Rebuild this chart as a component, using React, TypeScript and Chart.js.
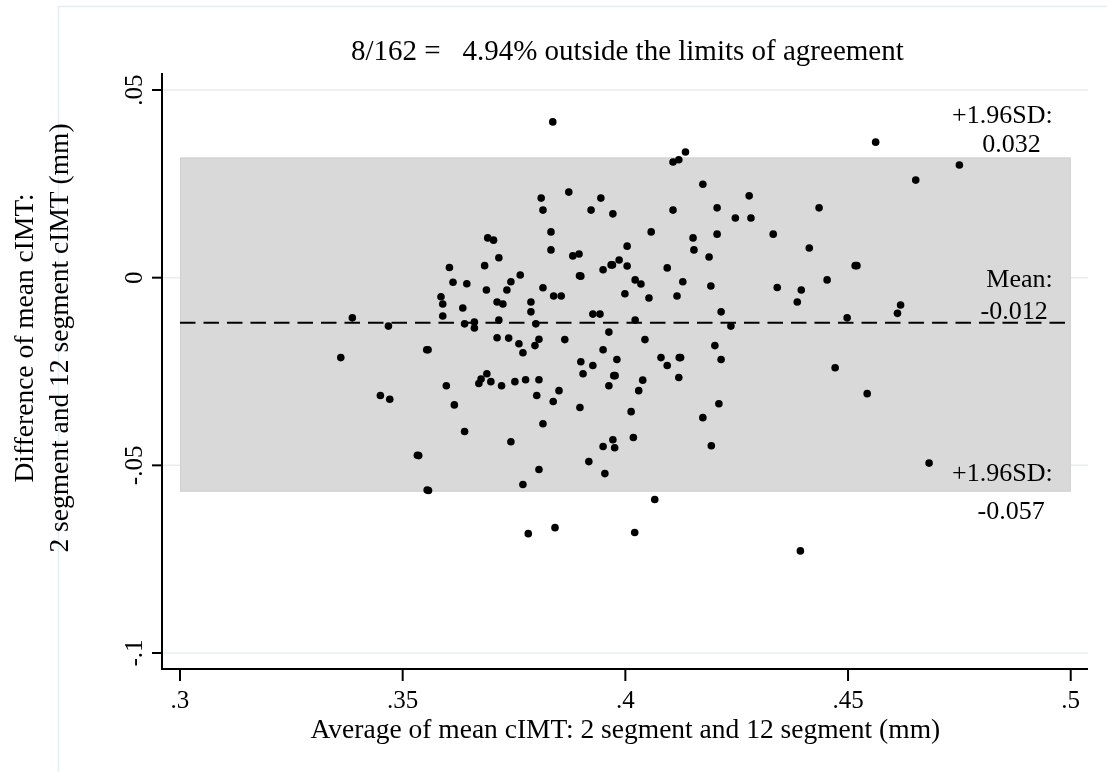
import React, { useEffect, useRef } from "react";
import { Chart, registerables } from "chart.js";

Chart.register(...registerables);

// Average of the two cIMT measurements (mm)
const avgCimt = [
  0.3387, 0.3468, 0.3691, 0.3704, 0.3605, 0.3716, 0.3684, 0.3613, 0.3644, 0.3688,
  0.3586, 0.359, 0.3635, 0.3712, 0.359, 0.3716, 0.3639, 0.3661, 0.3661, 0.3712,
  0.3361, 0.3554, 0.3557, 0.345, 0.3471, 0.3598, 0.3616, 0.3639, 0.3533, 0.3536,
  0.3555, 0.3558, 0.3689, 0.3676, 0.3671, 0.3698,
  0.3837, 0.4107, 0.412, 0.3811, 0.3815, 0.3873, 0.3923, 0.3945, 0.3972, 0.4107,
  0.3833, 0.3833, 0.4058, 0.4004, 0.3882, 0.3896, 0.3897, 0.39, 0.395, 0.3968,
  0.3971, 0.3986, 0.4004, 0.4094, 0.4022, 0.4035, 0.4116, 0.4053, 0.3999, 0.3764,
  0.3743, 0.3734, 0.3725, 0.3815, 0.3839, 0.3856, 0.3788, 0.3788, 0.3927, 0.3943,
  0.4022, 0.3799, 0.3963, 0.3738, 0.3864, 0.4044, 0.3806,
  0.3797, 0.3761, 0.377, 0.395, 0.39, 0.3927, 0.3981, 0.3905, 0.408, 0.4094,
  0.4121, 0.4124, 0.412, 0.3963, 0.3974, 0.3977, 0.4039, 0.403, 0.3722, 0.3752,
  0.3776, 0.3806, 0.3801, 0.3851, 0.3838, 0.3898, 0.4013, 0.3815, 0.3743, 0.3972,
  0.3976, 0.395, 0.4018, 0.3918, 0.3806, 0.3954, 0.377, 0.4066, 0.3782, 0.3842,
  0.4021,
  0.4135, 0.4174, 0.4206, 0.4278, 0.4247, 0.4282, 0.4435, 0.4206, 0.4332, 0.4152,
  0.4154, 0.4188, 0.4413, 0.4516, 0.452, 0.4129, 0.4192, 0.4341, 0.4395, 0.4453,
  0.4386, 0.4215, 0.4498, 0.4237,
  0.4201, 0.4215, 0.4471, 0.421, 0.4174, 0.4193, 0.4393,
  0.4562, 0.4652, 0.475, 0.4618, 0.4611, 0.4543, 0.4682,
];

// Difference between the 2-segment and 12-segment cIMT (mm)
const diffCimt = [
  -0.0107, -0.0129, 0.0106, 0.01, 0.0027, 0.0053, 0.0032, -0.0012, -0.0016, -0.0033,
  -0.0051, -0.007, -0.0081, -0.0065, -0.0102, -0.0113, -0.0123, -0.0118, -0.0134, -0.016,
  -0.0213, -0.0192, -0.0192, -0.0314, -0.0324, -0.0288, -0.0339, -0.041, -0.0473, -0.0474,
  -0.0566, -0.0567, -0.0256, -0.027, -0.0282, -0.0277,
  0.0415, 0.0308, 0.0314, 0.0212, 0.018, 0.0228, 0.018, 0.0212, 0.017, 0.018,
  0.0122, 0.0074, 0.0122, 0.0084, 0.0058, 0.0063, 0.0005, 0.0004, 0.0021, 0.0034,
  0.0034, 0.0047, 0.0031, 0.0026, -0.0006, -0.0017, -0.0049, -0.0054, -0.0043, 0.0007,
  -0.0011, -0.0033, -0.007, -0.0027, -0.0049, -0.0049, -0.0065, -0.0091, -0.0097, -0.0097,
  -0.0113, -0.0123, -0.0145, -0.0161, -0.0165, -0.0165, -0.0164,
  -0.0181, -0.0176, -0.02, -0.0192, -0.0224, -0.0234, -0.0218, -0.0256, -0.0213, -0.0234,
  -0.0213, -0.0213, -0.0266, -0.0288, -0.0261, -0.0261, -0.0273, -0.0301, -0.0288, -0.0277,
  -0.0272, -0.0272, -0.0314, -0.0301, -0.033, -0.0346, -0.0357, -0.0389, -0.0437, -0.0432,
  -0.0453, -0.045, -0.0426, -0.049, -0.0511, -0.0522, -0.0551, -0.0591, -0.0682, -0.0666,
  -0.0679,
  0.0335, 0.0249, 0.0186, 0.0218, 0.0159, 0.0159, 0.0186, 0.0116, 0.0116, 0.0106,
  0.0074, 0.0055, 0.0079, 0.0032, 0.0032, -0.0011, -0.0022, -0.0026, -0.0033, -0.0006,
  -0.0065, -0.0091, -0.0107, -0.0129,
  -0.0181, -0.0218, -0.024, -0.0336, -0.0373, -0.0448, -0.0728,
  0.0361, 0.026, 0.03, -0.0073, -0.0095, -0.0309, -0.0494,
];

// Limits of agreement
const upperLimit = 0.032;
const meanDiff = -0.012;
const lowerLimit = -0.057;
const bandStart = 0.3;
const bandEnd = 0.5;

const xTicks = [0.3, 0.35, 0.4, 0.45, 0.5];
const xTickLabels = [".3", ".35", ".4", ".45", ".5"];
const yTicks = [0.05, 0, -0.05, -0.1];
const yTickLabels = [".05", "0", "-.05", "-.1"];

const titleText = "8/162 =   4.94% outside the limits of agreement";
const xTitle = "Average of mean cIMT: 2 segment and 12 segment (mm)";
const yTitleLines = ["Difference of mean cIMT:", "2 segment and 12 segment cIMT (mm)"];
const upperLabel = ["+1.96SD:", upperLimit.toFixed(3)];
const meanLabel = ["Mean:", meanDiff.toFixed(3)];
const lowerLabel = ["+1.96SD:", lowerLimit.toFixed(3)];

const FONT = '"Liberation Serif", "Times New Roman", serif';

const blandAltmanDecor = {
  id: "blandAltmanDecor",
  beforeDatasetsDraw(chart: any) {
    const { ctx, scales } = chart;
    const xs = scales.x;
    const ys = scales.y;
    const left = chart.chartArea.left;
    const right = chart.chartArea.right;
    ctx.save();
    // outer graph frame
    ctx.strokeStyle = "#e4edef";
    ctx.lineWidth = 1.5;
    ctx.beginPath();
    ctx.moveTo(58.5, chart.height);
    ctx.lineTo(58.5, 6.5);
    ctx.lineTo(chart.width, 6.5);
    ctx.stroke();
    // horizontal grid lines
    ctx.strokeStyle = "#e6eef0";
    ctx.lineWidth = 1.5;
    for (const t of yTicks) {
      const y = ys.getPixelForValue(t);
      ctx.beginPath();
      ctx.moveTo(left, y);
      ctx.lineTo(right, y);
      ctx.stroke();
    }
    // limits-of-agreement band
    const bx0 = xs.getPixelForValue(bandStart);
    const bx1 = xs.getPixelForValue(bandEnd);
    const by0 = ys.getPixelForValue(upperLimit);
    const by1 = ys.getPixelForValue(lowerLimit);
    ctx.fillStyle = "#d9d9d9";
    ctx.fillRect(bx0, by0, bx1 - bx0, by1 - by0);
    ctx.strokeStyle = "#d0d0d0";
    ctx.lineWidth = 1;
    ctx.strokeRect(bx0 + 0.5, by0 + 0.5, bx1 - bx0 - 1, by1 - by0 - 1);
    ctx.restore();
  },
  afterDatasetsDraw(chart: any) {
    const { ctx, scales, chartArea } = chart;
    const xs = scales.x;
    const ys = scales.y;
    ctx.save();
    ctx.fillStyle = "#000";
    ctx.strokeStyle = "#000";
    ctx.lineWidth = 2;
    // axis lines
    ctx.beginPath();
    ctx.moveTo(chartArea.left, chartArea.top);
    ctx.lineTo(chartArea.left, chartArea.bottom);
    ctx.lineTo(chartArea.right, chartArea.bottom);
    ctx.stroke();
    // x ticks and labels
    ctx.font = `25px ${FONT}`;
    ctx.textAlign = "center";
    ctx.textBaseline = "alphabetic";
    xTicks.forEach((t, i) => {
      const x = xs.getPixelForValue(t);
      ctx.beginPath();
      ctx.moveTo(x, chartArea.bottom);
      ctx.lineTo(x, chartArea.bottom + 12);
      ctx.stroke();
      ctx.fillText(xTickLabels[i], x, chartArea.bottom + 39);
    });
    // y ticks and rotated labels
    yTicks.forEach((t, i) => {
      const y = ys.getPixelForValue(t);
      ctx.beginPath();
      ctx.moveTo(chartArea.left, y);
      ctx.lineTo(chartArea.left - 10, y);
      ctx.stroke();
      ctx.save();
      ctx.translate(chartArea.left - 20, y);
      ctx.rotate(-Math.PI / 2);
      ctx.fillText(yTickLabels[i], 0, 0);
      ctx.restore();
    });
    // title
    ctx.font = `29px ${FONT}`;
    ctx.fillText(titleText, xs.getPixelForValue(0.4) + 2, 60);
    // x axis title
    ctx.font = `27.5px ${FONT}`;
    ctx.fillText(xTitle, xs.getPixelForValue(0.4), chartArea.bottom + 69);
    // y axis title (two lines)
    const yMid = 338;
    [33, 68].forEach((bx, i) => {
      ctx.save();
      ctx.translate(bx, yMid);
      ctx.rotate(-Math.PI / 2);
      ctx.fillText(yTitleLines[i], 0, 0);
      ctx.restore();
    });
    // limit annotations
    ctx.font = `26px ${FONT}`;
    ctx.textAlign = "right";
    const xr = xs.getPixelForValue(bandEnd);
    const yU = ys.getPixelForValue(upperLimit);
    const yM = ys.getPixelForValue(meanDiff);
    const yL = ys.getPixelForValue(lowerLimit);
    ctx.fillText(upperLabel[0], xr - 18, yU - 35);
    ctx.fillText(upperLabel[1], xr - 30, yU - 6);
    ctx.fillText(meanLabel[0], xr - 18, yM - 36);
    ctx.fillText(meanLabel[1], xr - 23, yM - 4);
    ctx.fillText(lowerLabel[0], xr - 18, yL - 11);
    ctx.fillText(lowerLabel[1], xr - 26, yL + 27);
    ctx.restore();
  },
};

export default function App() {
  const canvasRef = useRef<HTMLCanvasElement | null>(null);

  useEffect(() => {
    const canvas = canvasRef.current;
    if (!canvas) return;
    const points = avgCimt.map((x, i) => ({ x, y: diffCimt[i] }));
    const chart = new Chart(canvas, {
      type: "scatter",
      data: {
        datasets: [
          {
            data: points,
            backgroundColor: "#000",
            borderWidth: 0,
            pointRadius: 3.8,
            pointHoverRadius: 3.8,
          },
          {
            type: "line",
            data: [
              { x: bandStart, y: meanDiff },
              { x: bandEnd, y: meanDiff },
            ],
            borderColor: "#000",
            borderWidth: 2,
            borderDash: [15.5, 8],
            pointRadius: 0,
            fill: false,
          } as any,
        ],
      },
      options: {
        animation: false,
        responsive: false,
        devicePixelRatio: 1,
        layout: { padding: { left: 162, right: 19, top: 73, bottom: 103 } },
        plugins: {
          legend: { display: false },
          tooltip: { enabled: false },
          title: { display: false },
        },
        scales: {
          x: { type: "linear", min: 0.29596, max: 0.50388, display: false },
          y: { type: "linear", min: -0.10426, max: 0.05453, display: false },
        },
      },
      plugins: [blandAltmanDecor],
    });
    return () => chart.destroy();
  }, []);

  return (
    <div style={{ position: "absolute", left: 0, top: 0, width: 1107, height: 772, background: "#fff" }}>
      <canvas ref={canvasRef} width={1107} height={772} style={{ width: 1107, height: 772, display: "block" }} />
    </div>
  );
}
